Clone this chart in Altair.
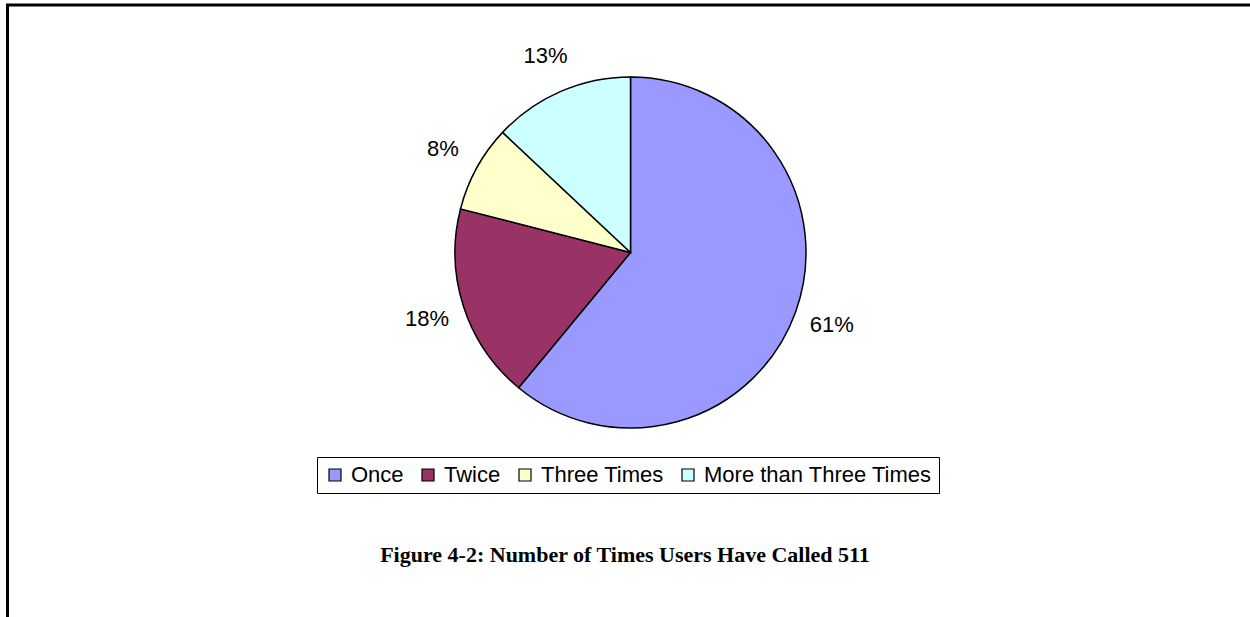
import altair as alt
import pandas as pd

categories = ["Once", "Twice", "Three Times", "More than Three Times"]
values = [61, 18, 8, 13]
labels = ["61%", "18%", "8%", "13%"]
colors = ["#9999FF", "#993366", "#FFFFCC", "#CCFFFF"]
caption = "Figure 4-2: Number of Times Users Have Called 511"

df = pd.DataFrame({"cat": categories, "value": values, "label": labels,
                   "idx": list(range(len(categories)))})

CX, CY = 630.5, 252.5

base = alt.Chart(df).encode(
    theta=alt.Theta("value:Q", stack=True),
    order=alt.Order("idx:Q", sort="ascending"),
)

pie = base.mark_arc(outerRadius=175.5, stroke="black", strokeWidth=1.5).encode(
    x=alt.value(CX), y=alt.value(CY),
    color=alt.Color("cat:N", scale=alt.Scale(domain=categories, range=colors),
                    legend=alt.Legend(
                        title=None, orient="none", legendX=317, legendY=457,
                        direction="horizontal", symbolType="square",
                        symbolSize=144, symbolStrokeColor="black",
                        symbolStrokeWidth=1.2, labelFont="Liberation Sans",
                        labelFontSize=22, labelColor="black", strokeColor="black",
                        padding=7, columnPadding=13, labelOffset=5,
                        labelLimit=400, fillColor="white")),
)

text = base.mark_text(radius=214, font="Liberation Sans", fontSize=22,
                      color="black").encode(
    x=alt.value(CX), y=alt.value(CY), text="label:N")

cap = alt.Chart(pd.DataFrame({"t": [caption]})).mark_text(
    font="Liberation Serif", fontSize=22, fontWeight="bold", color="black"
).encode(x=alt.value(625), y=alt.value(555), text="t:N")

frame_top = alt.Chart(pd.DataFrame({"a": [0]})).mark_rule(
    color="black", strokeWidth=3).encode(
    x=alt.value(6), x2=alt.value(1250), y=alt.value(5))
frame_left = alt.Chart(pd.DataFrame({"a": [0]})).mark_rule(
    color="black", strokeWidth=3).encode(
    x=alt.value(7.5), y=alt.value(4), y2=alt.value(617))

chart = alt.layer(pie, text, cap, frame_top, frame_left).properties(
    width=1250, height=617, autosize=alt.AutoSizeParams(type="none"),
    padding=0, background="white"
).configure_view(stroke=None)

chart.save("out.html", embed_options={"renderer": "svg", "actions": False})
